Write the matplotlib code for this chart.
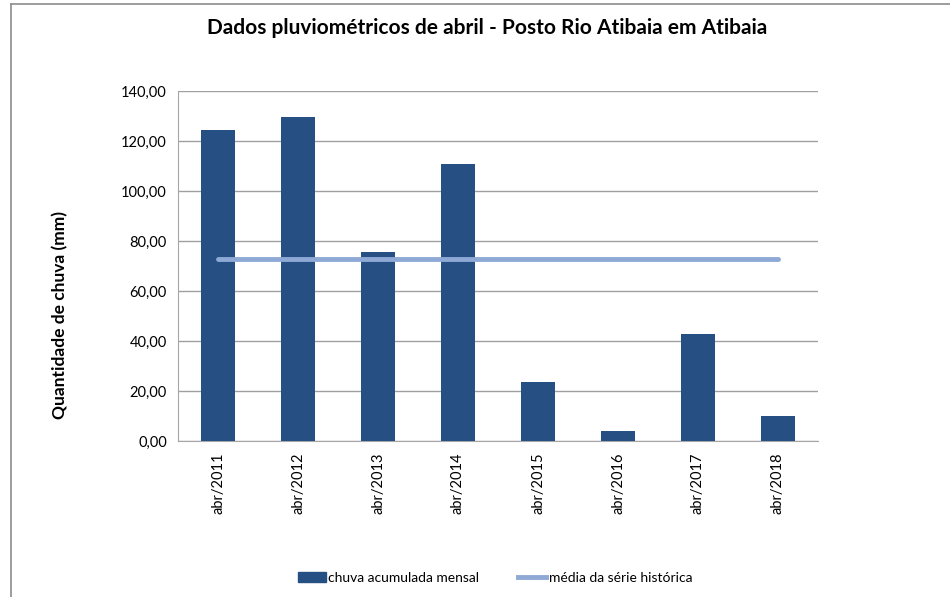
import matplotlib
matplotlib.use('Agg')
import matplotlib.pyplot as plt
from matplotlib.lines import Line2D
from matplotlib.patches import Patch

# dados
meses = ['abr/2011', 'abr/2012', 'abr/2013', 'abr/2014',
         'abr/2015', 'abr/2016', 'abr/2017', 'abr/2018']
chuva = [124.4, 129.6, 75.6, 110.8, 23.6, 4.0, 42.8, 10.0]
media = [72.8] * len(meses)

cor_barra = '#264F84'
cor_linha = '#8EA9D5'

plt.rcParams['font.family'] = ['Lato', 'DejaVu Sans']

fig = plt.figure(figsize=(9.5, 5.97), dpi=100)
ax = fig.add_axes([178 / 950, 1 - 441 / 597, 640 / 950, 350 / 597])

x = list(range(len(meses)))
ax.bar(x, chuva, width=0.42, color=cor_barra, zorder=3)
ax.plot(x, media, color=cor_linha, linewidth=3.5, solid_capstyle='round', zorder=4)

ax.set_xlim(-0.5, len(meses) - 0.5)
ax.set_ylim(0, 140)
ax.set_yticks(range(0, 141, 20))
ax.set_yticklabels([f'{v},00' for v in range(0, 141, 20)], fontsize=10.5)
ax.set_xticks(x)
ax.set_xticklabels(meses, rotation=90, fontsize=10.5)
ax.tick_params(length=0, pad=8)
ax.yaxis.grid(True, color='#A0A0A0', linewidth=1, zorder=0)

for lado in ['top', 'right']:
    ax.spines[lado].set_visible(False)
ax.spines['left'].set_color('#A6A6A6')
ax.spines['bottom'].set_color('#A6A6A6')

# rótulo do eixo y na posição do original
fig.text(60 / 950, 1 - 315 / 597, 'Quantidade de chuva (mm)', rotation=90,
         ha='center', va='center', fontsize=12.5, fontweight='bold')

fig.text(487 / 950, 1 - 28 / 597, 'Dados pluviométricos de abril - Posto Rio Atibaia em Atibaia',
         ha='center', va='center', fontsize=15, fontweight='bold')

# borda do gráfico (só lados esquerdo e superior visíveis)
fig.add_artist(Line2D([11 / 950, 11 / 950], [0, 1 - 4 / 597], color='#8C8C8C', linewidth=1.2))
fig.add_artist(Line2D([11 / 950, 1], [1 - 4 / 597, 1 - 4 / 597], color='#8C8C8C', linewidth=1.2))

handles = [Patch(color=cor_barra), Line2D([0], [0], color=cor_linha, linewidth=3.5)]
fig.legend(handles, ['chuva acumulada mensal', 'média da série histórica'],
           loc='center', bbox_to_anchor=(495 / 950, 1 - 578 / 597), ncol=2, frameon=False,
           fontsize=10, handlelength=2.0, handleheight=0.7, handletextpad=0.2, columnspacing=2.8)

plt.savefig('out.png', dpi=100)
